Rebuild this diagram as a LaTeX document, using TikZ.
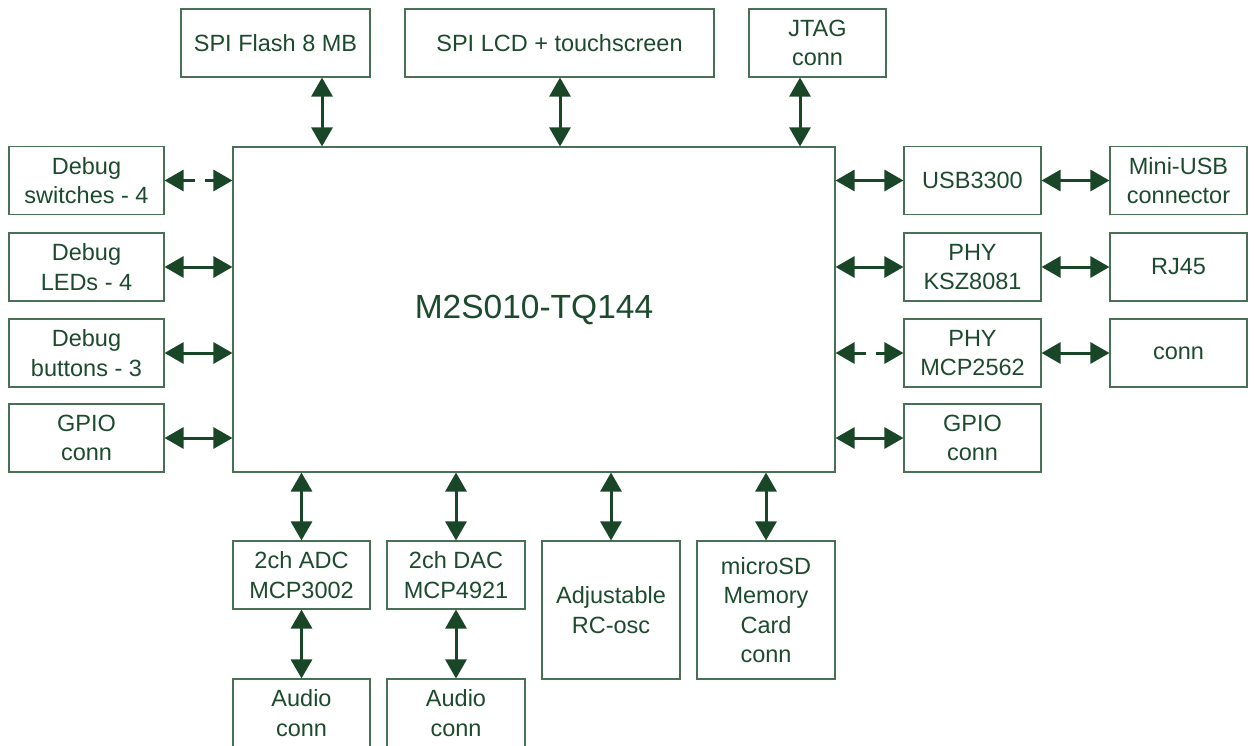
\documentclass[tikz,border=0pt]{standalone}
\usepackage{fontspec}
\setmainfont{Liberation Sans}
\usetikzlibrary{arrows.meta}
\definecolor{txt}{RGB}{28,74,44}
\definecolor{bord}{RGB}{72,112,84}
\definecolor{arr}{RGB}{24,70,38}
\tikzset{
  box/.style={draw=bord, line width=1.1pt, text=txt, align=center, inner sep=0pt,
    font=\fontsize{23.5}{29.5}\selectfont},
  w137/.style={minimum width=137pt},
  h68/.style={minimum height=68pt},
  link/.style={draw=arr, line width=3pt, {Triangle[length=19pt,width=21pt]}-{Triangle[length=19pt,width=21pt]}},
  dlink/.style={link, dash pattern=on 12pt off 10pt on 30pt},
}
\begin{document}
\begin{tikzpicture}[x=1pt,y=-1pt]
\useasboundingbox (0,0) rectangle (1254,745);
% main
\node[box, minimum width=602pt, minimum height=325pt, font=\fontsize{33.5}{40}\selectfont] (main) at (534,309.5) {M2S010-TQ144};
% top
\node[box, minimum width=189pt, h68] (flash) at (275.5,43) {SPI Flash 8 MB};
\node[box, minimum width=309pt, h68] (lcd) at (559.5,43) {SPI LCD + touchscreen};
\node[box, w137, h68] (jtag) at (817.5,43) {JTAG\\conn};
% left
\node[box, minimum width=155pt, h68] (dsw) at (86.5,180.5) {Debug\\switches - 4};
\node[box, minimum width=155pt, h68] (dled) at (86.5,267) {Debug\\LEDs - 4};
\node[box, minimum width=155pt, h68] (dbtn) at (86.5,353) {Debug\\buttons - 3};
\node[box, minimum width=155pt, h68] (gpiol) at (86.5,438) {GPIO\\conn};
% right col 1
\node[box, w137, h68] (usb) at (972.5,180.5) {USB3300};
\node[box, w137, h68] (phy1) at (972.5,267) {PHY\\KSZ8081};
\node[box, w137, h68] (phy2) at (972.5,353) {PHY\\MCP2562};
\node[box, w137, h68] (gpior) at (972.5,438) {GPIO\\conn};
% right col 2
\node[box, w137, h68] (miniusb) at (1178.5,180.5) {Mini-USB\\connector};
\node[box, w137, h68] (rj45) at (1178.5,267) {RJ45};
\node[box, w137, h68] (conn) at (1178.5,353) {conn};
% bottom
\node[box, w137, h68] (adc) at (301.5,575) {2ch ADC\\MCP3002};
\node[box, minimum width=138pt, h68] (dac) at (456,575) {2ch DAC\\MCP4921};
\node[box, minimum width=138pt, minimum height=138pt] (osc) at (611,610) {Adjustable\\RC-osc};
\node[box, minimum width=138pt, minimum height=138pt] (sd) at (766,610) {microSD\\Memory\\Card\\conn};
\node[box, w137, h68] (aud1) at (301.5,713) {Audio\\conn};
\node[box, minimum width=138pt, h68] (aud2) at (456,713) {Audio\\conn};
% helper coordinates
\coordinate (fx) at (322,0);
\coordinate (lx) at (560,0);
\coordinate (jx) at (800,0);
% top links
\draw[link] (flash.south -| fx) -- (main.north -| fx);
\draw[link] (lcd.south -| lx) -- (main.north -| lx);
\draw[link] (jtag.south -| jx) -- (main.north -| jx);
% left links
\draw[dlink] (dsw.east) -- (main.west |- dsw.east);
\draw[link] (dled.east) -- (main.west |- dled.east);
\draw[link] (dbtn.east) -- (main.west |- dbtn.east);
\draw[link] (gpiol.east) -- (main.west |- gpiol.east);
% right links
\draw[link] (main.east |- usb.west) -- (usb.west);
\draw[link] (main.east |- phy1.west) -- (phy1.west);
\draw[dlink] (main.east |- phy2.west) -- (phy2.west);
\draw[link] (main.east |- gpior.west) -- (gpior.west);
\draw[link] (usb.east) -- (miniusb.west);
\draw[link] (phy1.east) -- (rj45.west);
\draw[link] (phy2.east) -- (conn.west);
% bottom links
\draw[link] (main.south -| adc.north) -- (adc.north);
\draw[link] (main.south -| dac.north) -- (dac.north);
\draw[link] (main.south -| osc.north) -- (osc.north);
\draw[link] (main.south -| sd.north) -- (sd.north);
\draw[link] (adc.south) -- (aud1.north);
\draw[link] (dac.south) -- (aud2.north);
\end{tikzpicture}
\end{document}
